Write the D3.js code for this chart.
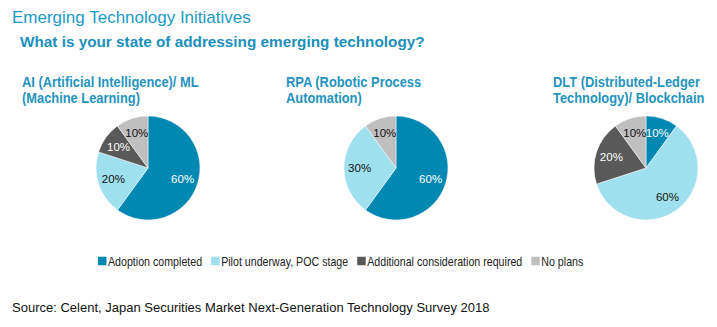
<!DOCTYPE html>
<meta charset="utf-8">
<title>Emerging Technology Initiatives</title>
<script src="https://cdn.jsdelivr.net/npm/d3@7/dist/d3.min.js"></script>
<style>
html, body {
    margin: 0;
    background: #fff;
}
svg {
    display: block;
    font-family: "Liberation Sans", Arial, sans-serif;
}
.title { fill: #1a9ac6; font-size: 17px; }
.subtitle { fill: #1b8fbd; font-size: 15.3px; font-weight: bold; }
.pie-title { fill: #2494bf; font-size: 14px; font-weight: bold; }
.slice-label { font-size: 11.5px; }
.legend text { font-size: 13px; fill: #222; }
.source { font-size: 13px; fill: #111; }
</style>
<body>
<script>
var width = 717,
    height = 327;

// survey answers, share of respondents (%)
var statuses = ["Adoption completed", "Pilot underway, POC stage", "Additional consideration required", "No plans"];
var technologies = [
    ["AI (Artificial Intelligence)/ ML", "(Machine Learning)"],
    ["RPA (Robotic Process", "Automation)"],
    ["DLT (Distributed-Ledger", "Technology)/ Blockchain"]
];
var aiValues = [60, 20, 10, 10];
var rpaValues = [60, 30, 0, 10];
var dltValues = [10, 60, 20, 10];
var series = [aiValues, rpaValues, dltValues];

var colors = ["#0088b3", "#9fe0ee", "#595959", "#bfbfbf"];
var labelColors = ["#fff", "#111", "#fff", "#111"];

// chart titles and legend are set condensed
var titleSqueeze = 0.92,
    legendSqueeze = 0.82;

var svg = d3.select("body").append("svg")
    .attr("width", width)
    .attr("height", height);

svg.append("text")
    .attr("class", "title")
    .attr("x", 12)
    .attr("y", 23)
    .text("Emerging Technology Initiatives");

svg.append("text")
    .attr("class", "subtitle")
    .attr("x", 20)
    .attr("y", 47)
    .text("What is your state of addressing emerging technology?");

var radius = 52,
    centersX = [148, 396, 646],
    titleX = [22, 286, 553],
    cy = 168;

var pie = d3.pie().sort(null).value(function(d) { return d; });
var arc = d3.arc().innerRadius(0).outerRadius(radius);
var labelArc = d3.arc().innerRadius(radius * 0.7).outerRadius(radius * 0.7);
var color = d3.scaleOrdinal().domain(d3.range(statuses.length)).range(colors);

series.forEach(function(values, k) {
    var t = svg.append("text")
        .attr("class", "pie-title")
        .attr("transform", "translate(" + titleX[k] + ",87) scale(" + titleSqueeze + ",1)");
    technologies[k].forEach(function(line, j) {
        t.append("tspan").attr("x", 0).attr("dy", j ? 16 : 0).text(line);
    });

    var g = svg.append("g")
        .attr("transform", "translate(" + centersX[k] + "," + cy + ")");

    var arcs = pie(values).filter(function(d) { return d.value > 0; });

    g.selectAll("path")
        .data(arcs)
        .enter().append("path")
        .attr("d", arc)
        .attr("fill", function(d) { return color(d.index); })
        .attr("stroke", "#fff")
        .attr("stroke-width", 0.5);

    g.selectAll("text")
        .data(arcs)
        .enter().append("text")
        .attr("class", "slice-label")
        .attr("transform", function(d) { return "translate(" + labelArc.centroid(d) + ")"; })
        .attr("text-anchor", "middle")
        .attr("dy", "0.35em")
        .attr("fill", function(d) { return labelColors[d.index]; })
        .text(function(d) { return d.value + "%"; });
});

// legend, laid out left to right from measured text widths
var legend = svg.append("g")
    .attr("class", "legend")
    .attr("transform", "translate(98,261)");

var lx = 0;
statuses.forEach(function(s, i) {
    var item = legend.append("g").attr("transform", "translate(" + lx + ",0)");
    item.append("rect")
        .attr("x", 0)
        .attr("y", -4.25)
        .attr("width", 8.5)
        .attr("height", 8.5)
        .attr("fill", colors[i]);
    var label = item.append("text")
        .attr("transform", "translate(10,0) scale(" + legendSqueeze + ",1)")
        .attr("dy", "0.36em")
        .text(s);
    lx += 10 + label.node().getComputedTextLength() * legendSqueeze + 9;
});

svg.append("text")
    .attr("class", "source")
    .attr("x", 12)
    .attr("y", 312)
    .text("Source: Celent, Japan Securities Market Next-Generation Technology Survey 2018");
</script>
</body>
